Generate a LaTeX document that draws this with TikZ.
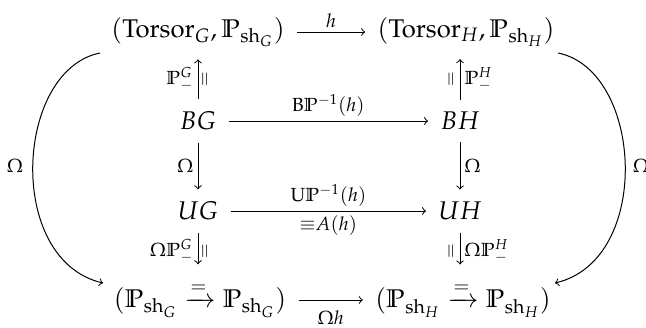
\documentclass[tikz,border=0pt]{standalone}
\usepackage{amsmath}
\usepackage{mathpazo}
\usepackage{graphicx}
\newcommand{\rotEq}{\rotatebox{90}{\fontsize{9}{10}\selectfont$=$}}
\newcommand{\bbP}{\mathbb{P}}
\begin{document}
\begin{tikzpicture}[x=0.5pt,y=-0.5pt,
  obj/.style={inner sep=3pt, font=\fontsize{12.8}{15}\selectfont},
  lab/.style={font=\fontsize{9.5}{11}\selectfont, inner sep=2pt},
  arr/.style={->, line width=0.5pt, shorten >=3pt, shorten <=3pt},
  curv/.style={->, line width=0.5pt}]
\useasboundingbox (0,0) rectangle (646,327);
\node[obj] (TG) at (198,32) {$(\mathrm{Torsor}_G,\bbP_{\mathrm{sh}_G})$};
\node[obj] (TH) at (466,32) {$(\mathrm{Torsor}_H,\bbP_{\mathrm{sh}_H})$};
\node[obj] (BG) at (198,121) {$BG$};
\node[obj] (BH) at (460,121) {$BH$};
\node[obj] (UG) at (198,211) {$UG$};
\node[obj] (UH) at (460,211) {$UH$};
\node[obj] (PG) at (200,300) {$(\bbP_{\mathrm{sh}_G}\xrightarrow{=}\bbP_{\mathrm{sh}_G})$};
\node[obj] (PH) at (463,300) {$(\bbP_{\mathrm{sh}_H}\xrightarrow{=}\bbP_{\mathrm{sh}_H})$};
\coordinate (LS) at (100,53);
\coordinate (LE) at (103,283);
\coordinate (RS) at (558,53);
\coordinate (RE) at (555,283);
% horizontal
\draw[arr] (TG.east) -- node[lab,above] {$h$} (TH.west);
\draw[arr] (BG.east) -- node[lab,above] {$\mathrm{B}\bbP^{-1}(h)$} (BH.west);
\draw[arr] (UG.east) -- node[lab,above] {$\mathrm{U}\bbP^{-1}(h)$} node[lab,below] {${\equiv}A(h)$} (UH.west);
\draw[arr] (PG.east) -- node[lab,below=3pt] {$\Omega h$} (PH.west);
% vertical
\draw[arr] (BG.north) -- node[lab,left] {$\bbP^{G}_{-}$} node[lab,right] {\rotEq} (BG.north |- TG.south);
\draw[arr] (BH.north) -- node[lab,left] {\rotEq} node[lab,right] {$\bbP^{H}_{-}$} (BH.north |- TH.south);
\draw[arr] (BG.south) -- node[lab,left] {$\Omega$} (UG.north);
\draw[arr] (BH.south) -- node[lab,right] {$\Omega$} (UH.north);
\draw[arr, shorten >=6pt] (UG.south) -- node[lab,left] {$\Omega\bbP^{G}_{-}$} node[lab,right] {\rotEq} (UG.south |- PG.north);
\draw[arr, shorten >=6pt] (UH.south) -- node[lab,left] {\rotEq} node[lab,right] {$\Omega\bbP^{H}_{-}$} (UH.south |- PH.north);
% big curves
\draw[curv] (LS) .. controls (15,70) and (5,260) .. (LE);
\draw[curv] (RS) .. controls (643,70) and (653,260) .. (RE);
\node[lab] (OmL) at (15,166) {$\Omega$};
\node[lab] (OmR) at (641,166) {$\Omega$};
\end{tikzpicture}
\end{document}
